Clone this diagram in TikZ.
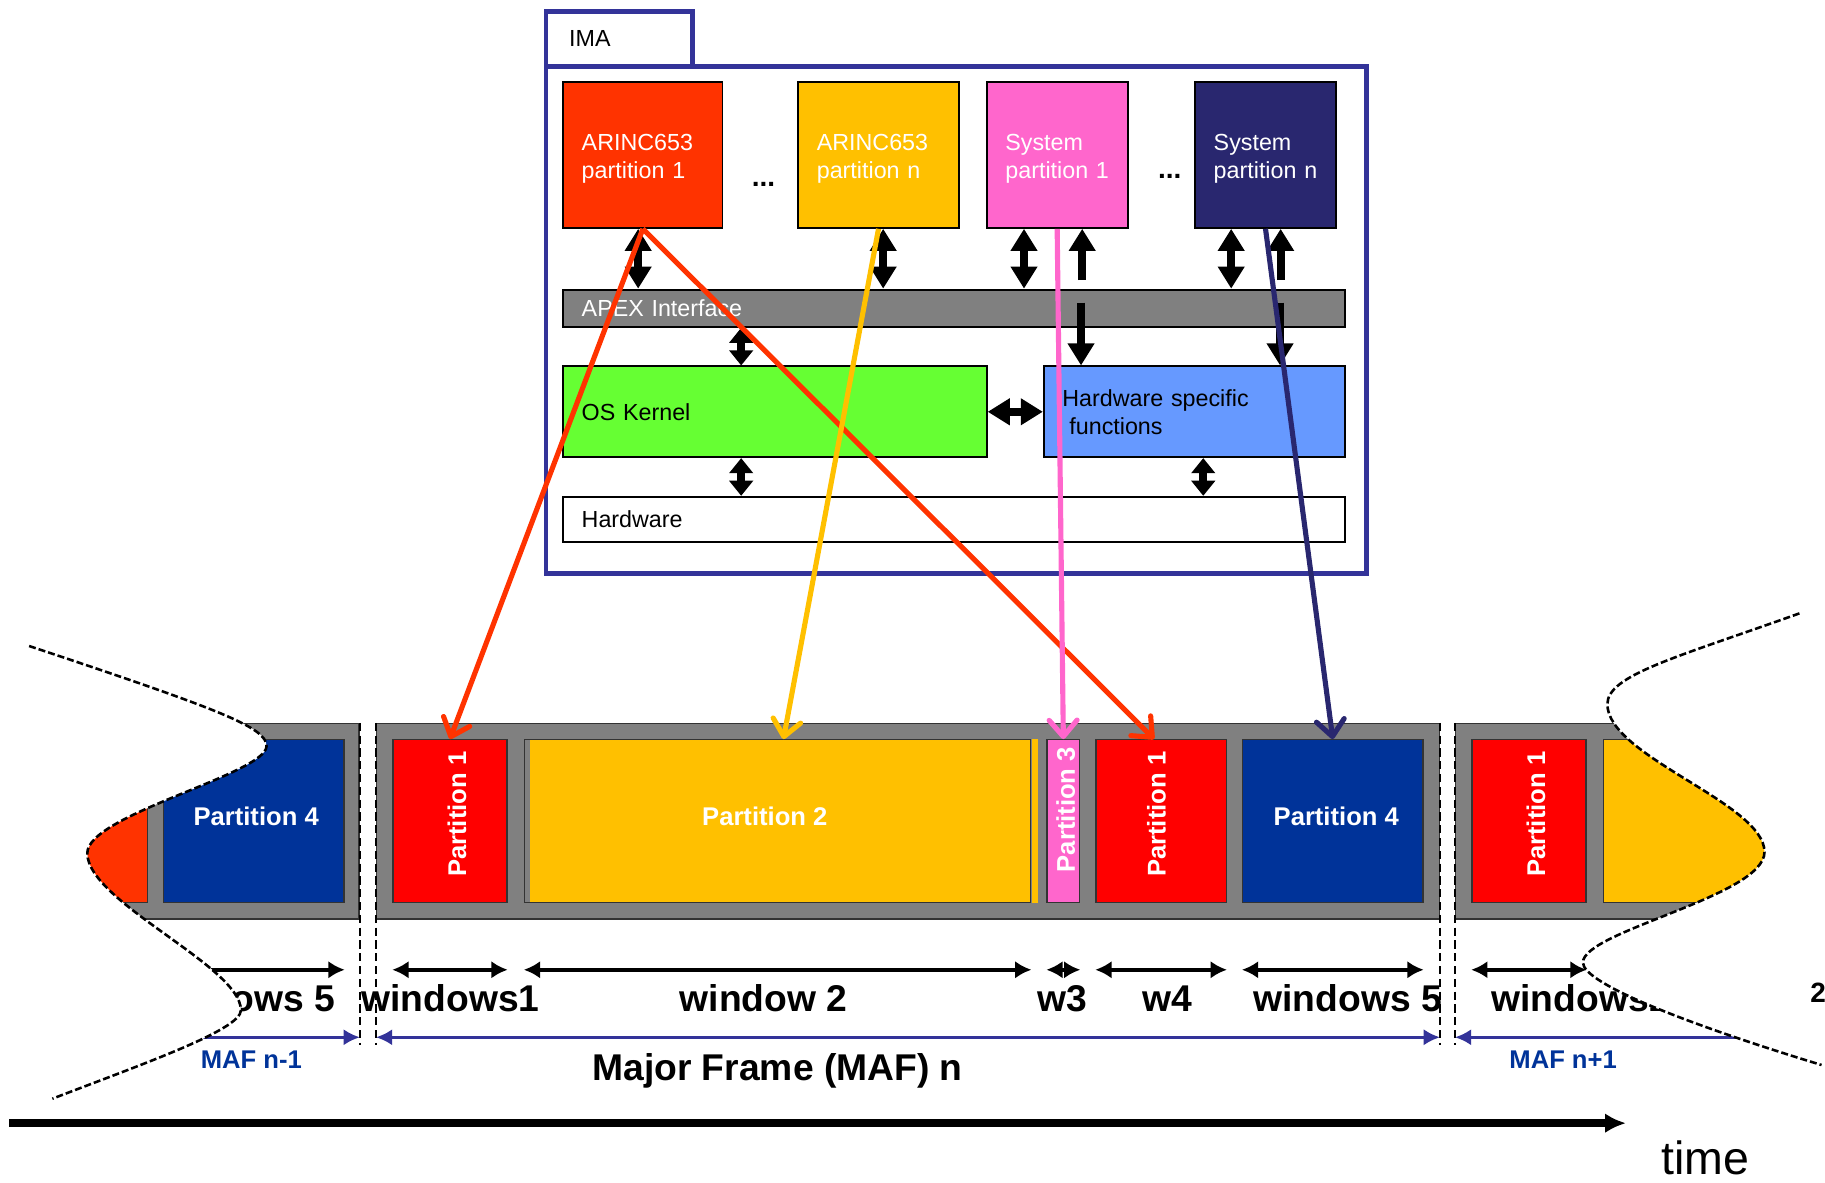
\documentclass[tikz,border=0pt]{standalone}
\usepackage{fontspec}
\setmainfont{Liberation Sans}
\usepackage{xcolor}
\usetikzlibrary{arrows.meta}
\definecolor{imablue}{RGB}{51,51,153}
\definecolor{arincred}{RGB}{255,51,0}
\definecolor{arincyellow}{RGB}{255,192,0}
\definecolor{syspink}{RGB}{255,102,204}
\definecolor{sysnavy}{RGB}{41,39,111}
\definecolor{apexgray}{RGB}{128,128,128}
\definecolor{kernelgreen}{RGB}{102,255,51}
\definecolor{hwblue}{RGB}{102,153,255}
\definecolor{winred}{RGB}{255,0,0}
\definecolor{winblue}{RGB}{0,51,153}
\tikzset{
  imabox/.style = {shape=rectangle, draw=black, line width=0.8pt,
                   anchor=north west, inner xsep=8pt, inner ysep=0pt,
                   align=left, font=\fontsize{10}{12}\selectfont},
  mafframe/.style = {shape=rectangle, draw=black!80, line width=0.6pt,
                     fill=apexgray, anchor=north west, inner sep=0pt,
                     minimum height=84pt},
  slot/.style = {shape=rectangle, draw=black!80, line width=0.6pt,
                 anchor=north west, inner sep=0pt, minimum height=70pt},
  hlabel/.style = {inner sep=0pt, text=white,
                   font=\bfseries\fontsize{11}{13}\selectfont},
  vlabel/.style = {hlabel, rotate=90},
  wlabel/.style = {anchor=base, inner sep=0pt,
                   font=\bfseries\fontsize{16}{19}\selectfont},
  maflabel/.style = {anchor=base, inner sep=0pt, text=winblue,
                     font=\bfseries\fontsize{11}{13}\selectfont},
  dotlabel/.style = {anchor=base, inner sep=0pt,
                     font=\bfseries\fontsize{12}{14}\selectfont},
  blk/.style = {line width=3.4pt,
                {Triangle[length=9.5pt,width=11pt]}-{Triangle[length=9.5pt,width=11pt]}},
  blkshort/.style = {line width=3.4pt,
                     {Triangle[length=6.5pt,width=10pt]}-{Triangle[length=6.5pt,width=10pt]}},
  blkup/.style = {line width=3.4pt, -{Triangle[length=9.5pt,width=11pt]}},
  maparrow/.style = {line width=2.2pt, -{Straight Barb[length=7pt,width=12pt,round]}},
  winarrow/.style = {line width=1.5pt,
                     {Latex[length=7pt,width=7.5pt]}-{Latex[length=7pt,width=7.5pt]}},
  mafline/.style = {imablue, line width=1.3pt, >={Latex[length=7pt,width=7pt]}},
  partsep/.style = {line width=1.1pt, dash pattern=on 3.5pt off 2pt},
  cutline/.style = {line width=1.1pt, dash pattern=on 3pt off 1.3pt},
  timearrow/.style = {line width=3.2pt, -{Latex[length=9pt,width=8.5pt]}}
}
\begin{document}
\begin{tikzpicture}[x=0.5pt, y=-0.5pt]
            \useasboundingbox (0,0) rectangle (1568,1016);

            \node (ima) [draw=imablue, line width=2pt, anchor=north west, inner sep=0pt,
                         minimum width=352.5pt, minimum height=218pt] at (467,55) {};
            \node (imatab) [draw=imablue, line width=2pt, fill=white, anchor=north west,
                            inner xsep=10pt, inner ysep=0pt, text width=43pt,
                            minimum height=23.5pt, align=left,
                            font=\fontsize{10}{12}\selectfont] at (467,8) {IMA};

            \node (arinc1) [imabox, fill=arincred, text=white, text width=52.5pt, minimum height=62.5pt] at (483,70) {\rule{0pt}{10.5pt}ARINC653\\partition 1};
            \node (arincn) [imabox, fill=arincyellow, text=white, text width=53pt, minimum height=62.5pt] at (685,70) {\rule{0pt}{10.5pt}ARINC653\\partition n};
            \node (sys1) [imabox, fill=syspink, text=white, text width=44.5pt, minimum height=62.5pt] at (847,70) {\rule{0pt}{10.5pt}System\\partition 1};
            \node (sysn) [imabox, fill=sysnavy, text=white, text width=44.5pt, minimum height=62.5pt] at (1026,70) {\rule{0pt}{10.5pt}System\\partition n};
            \node (dots1) [dotlabel] at (656,160) {...};
            \node (dots2) [dotlabel] at (1005,153) {...};

            \node (apex) [imabox, fill=apexgray, text=white, text width=320pt, minimum height=16pt] at (483,248) {APEX Interface};
            \node (kernel) [imabox, fill=kernelgreen, text width=166pt, minimum height=39pt] at (483,314) {OS Kernel};
            \node (hwspec) [imabox, fill=hwblue, text width=113.5pt, minimum height=39pt] at (896,314) {Hardware specific\\\hspace*{3pt}functions};
            \node (hw) [imabox, fill=white, text width=320pt, minimum height=19.5pt] at (483,426) {Hardware};

            \draw [blk] ([xshift=-2pt]arinc1.south) -- ([xshift=-2pt]arinc1.south |- apex.north);
            \draw [blk] ([xshift=2pt]arincn.south) -- ([xshift=2pt]arincn.south |- apex.north);
            \draw [blk] ([xshift=-14.25pt]sys1.south) -- ([xshift=-14.25pt]sys1.south |- apex.north);
            \draw [blkup] ([xshift=10.75pt,yshift=-22pt]sys1.south) -- ([xshift=10.75pt]sys1.south);
            \draw [blkup] ([xshift=-48.75pt,yshift=27pt]hwspec.north) -- ([xshift=-48.75pt]hwspec.north);
            \draw [blk] ([xshift=-14.75pt]sysn.south) -- ([xshift=-14.75pt]sysn.south |- apex.north);
            \draw [blkup] ([xshift=6.5pt,yshift=-22pt]sysn.south) -- ([xshift=6.5pt]sysn.south);
            \draw [blkup] ([xshift=36.75pt,yshift=27pt]hwspec.north) -- ([xshift=36.75pt]hwspec.north);
            \draw [blkshort] ([xshift=-14.5pt]kernel.north |- apex.south) -- ([xshift=-14.5pt]kernel.north);
            \draw [blkshort] ([xshift=-14.5pt]kernel.south) -- ([xshift=-14.5pt]kernel.south |- hw.north);
            \draw [blkshort] ([xshift=3.75pt]hwspec.south) -- ([xshift=3.75pt]hwspec.south |- hw.north);
            \draw [blk] (kernel.east) -- (hwspec.west);

            \node (fprev) [mafframe, minimum width=134pt] at (40,621) {};
            \node (fcur) [mafframe, minimum width=456.5pt] at (323,621) {};
            \node (fnext) [mafframe, minimum width=159pt] at (1250,621) {};

            \node (prevA) [slot, fill=arincred, minimum width=43pt] at (40,635) {};
            \node (prevP4) [slot, fill=winblue, minimum width=77.5pt] at (140,635) {};
            \node (p1a) [slot, fill=winred, minimum width=49pt] at (337,635) {};
            \node (p2) [slot, fill=arincyellow, minimum width=217.5pt] at (450,635) {};
            \fill [apexgray] ([xshift=0.4pt,yshift=-0.4pt]p2.north west) rectangle ([xshift=2.8pt,yshift=0.4pt]p2.south west);
            \fill [arincyellow] ([xshift=0.4pt]p2.north east) rectangle ([xshift=3pt]p2.south east);
            \node (p3) [slot, fill=syspink, minimum width=14pt] at (899,635) {};
            \node (p1b) [slot, fill=winred, minimum width=56pt] at (941,635) {};
            \node (p4) [slot, fill=winblue, minimum width=77.5pt] at (1067,635) {};
            \node (nextP1) [slot, fill=winred, minimum width=49pt] at (1264,635) {};
            \node (nextY) [slot, fill=arincyellow, minimum width=95.5pt] at (1377,635) {};

            \node (prevP4label) [hlabel] at ([xshift=1pt,yshift=2pt]prevP4.center) {Partition 4};
            \node (p1alabel) [vlabel] at ([xshift=3pt,yshift=3pt]p1a.center) {Partition 1};
            \node (p2label) [hlabel] at ([xshift=-5.5pt,yshift=2pt]p2.center) {Partition 2};
            \node (p3label) [vlabel] at ([xshift=1pt,yshift=5pt]p3.center) {Partition 3};
            \node (p1blabel) [vlabel] at ([xshift=-2pt,yshift=3pt]p1b.center) {Partition 1};
            \node (p4label) [hlabel] at ([xshift=1.5pt,yshift=2pt]p4.center) {Partition 4};
            \node (nextP1label) [vlabel] at ([xshift=3pt,yshift=3pt]nextP1.center) {Partition 1};

            \draw [winarrow] ([yshift=-28.5pt]prevP4.south west) -- ([yshift=-28.5pt]prevP4.south east);
            \draw [winarrow] ([yshift=-28.5pt]p1a.south west) -- ([yshift=-28.5pt]p1a.south east);
            \draw [winarrow] ([yshift=-28.5pt]p2.south west) -- ([yshift=-28.5pt]p2.south east);
            \draw [winarrow] ([yshift=-28.5pt]p3.south west) -- ([yshift=-28.5pt]p3.south east);
            \draw [winarrow] ([yshift=-28.5pt]p1b.south west) -- ([yshift=-28.5pt]p1b.south east);
            \draw [winarrow] ([yshift=-28.5pt]p4.south west) -- ([yshift=-28.5pt]p4.south east);
            \draw [winarrow] ([yshift=-28.5pt]nextP1.south west) -- ([yshift=-28.5pt]nextP1.south east);

            \node (lw5a) [wlabel, anchor=base east] at (288,869) {windows 5};
            \node (lw1) [wlabel] at (387,869) {windows1};
            \node (lw2) [wlabel] at (656,869) {window 2};
            \node (lw3) [wlabel] at (913,869) {w3};
            \node (lw4) [wlabel] at (1003,869) {w4};
            \node (lw5) [wlabel] at (1158,869) {windows 5};
            \node (lw1b) [wlabel, anchor=base west] at (1281,869) {windows1};

            \draw [mafline, ->] ([xshift=-105pt,yshift=-50.5pt]fprev.south east) -- ([yshift=-50.5pt]fprev.south east);
            \draw [mafline, <->] ([yshift=-50.5pt]fcur.south west) -- ([yshift=-50.5pt]fcur.south east);
            \draw [mafline, <-] ([yshift=-50.5pt]fnext.south west) -- ([xshift=135pt,yshift=-50.5pt]fnext.south west);
            \node (mafprev) [maflabel] at (216,918) {MAF n-1};
            \node (mafcur) [wlabel] at (668,928) {Major Frame (MAF) n};
            \node (mafnext) [maflabel] at (1343,918) {MAF n+1};

            \draw [partsep] (fprev.north east) -- ++(0,277);
            \draw [partsep] (fcur.north west) -- ++(0,277);
            \draw [partsep] (fcur.north east) -- ++(0,277);
            \draw [partsep] (fnext.north west) -- ++(0,277);

            \fill [white] (0,555) -- (25,555) .. controls (190,610) and (229,625) .. (229,641)
                .. controls (229,665) and (75,700) .. (75,733)
                .. controls (75,775) and (207,830) .. (207,868)
                .. controls (207,885) and (120,915) .. (45,944) -- (0,944) -- cycle;
            \draw [cutline] (25,555) .. controls (190,610) and (229,625) .. (229,641)
                .. controls (229,665) and (75,700) .. (75,733)
                .. controls (75,775) and (207,830) .. (207,868)
                .. controls (207,885) and (120,915) .. (45,944);
            \fill [white] (1568,527) -- (1546,527) .. controls (1440,565) and (1381,580) .. (1381,605)
                .. controls (1381,650) and (1516,690) .. (1516,732)
                .. controls (1516,770) and (1360,800) .. (1360,827)
                .. controls (1360,845) and (1450,880) .. (1565,915) -- (1568,915) -- cycle;
            \draw [cutline] (1546,527) .. controls (1440,565) and (1381,580) .. (1381,605)
                .. controls (1381,650) and (1516,690) .. (1516,732)
                .. controls (1516,770) and (1360,800) .. (1360,827)
                .. controls (1360,845) and (1450,880) .. (1565,915);
            \node (frag) [anchor=base west, inner sep=0pt, font=\bfseries\fontsize{12}{14}\selectfont] at (1555,861) {2};

            \coordinate (t0) at (8,965);
            \coordinate (t1) at (1397,965);
            \draw [timearrow] (t0) -- (t1);
            \node (timelbl) [anchor=base west, inner sep=0pt, font=\fontsize{20}{24}\selectfont] at (1427,1009) {time};

            \draw [maparrow, arincred] (arinc1.south) -- (p1a.north);
            \draw [maparrow, arincred] (arinc1.south) -- ([xshift=-3pt]p1b.north);
            \draw [maparrow, arincyellow] (arincn.south) -- ([xshift=2.5pt]p2.north);
            \draw [maparrow, syspink] (sys1.south) -- (p3.north);
            \draw [maparrow, sysnavy] (sysn.south) -- (p4.north);
\end{tikzpicture}
\end{document}
